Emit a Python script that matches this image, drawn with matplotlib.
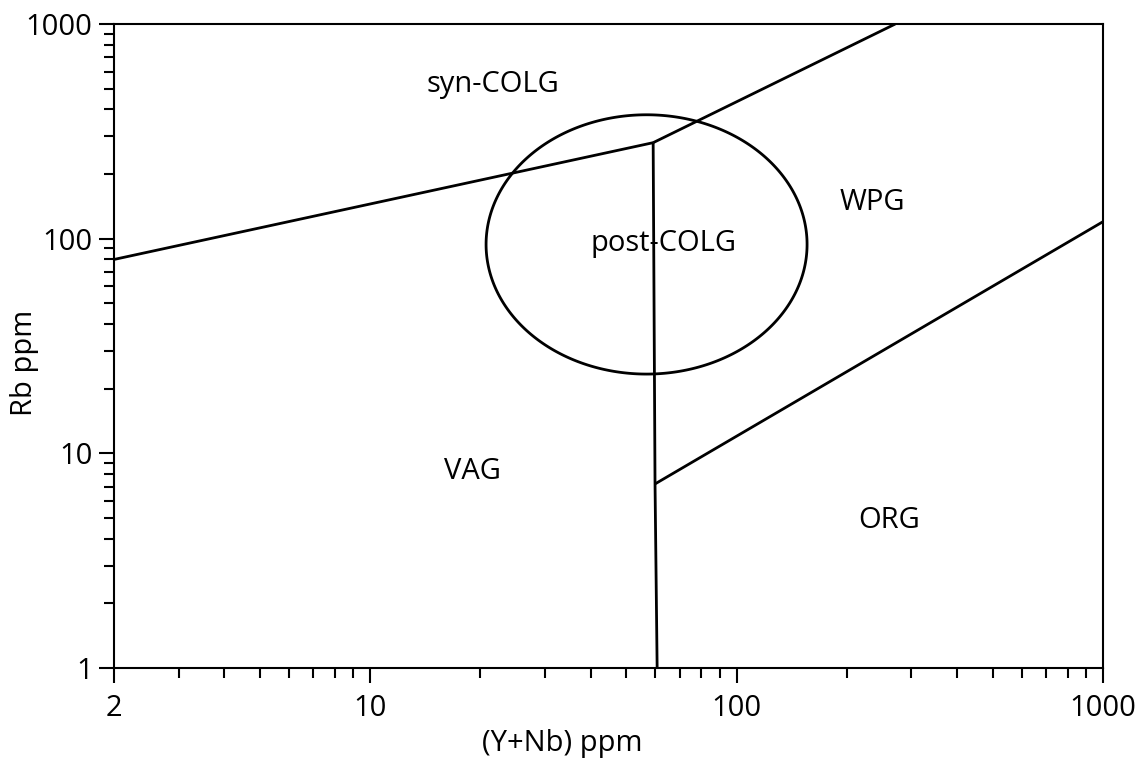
"""Rb vs (Y+Nb) tectonic discrimination diagram for granites."""
import numpy as np
import matplotlib
matplotlib.use("Agg")
import matplotlib.pyplot as plt
from matplotlib.patches import Polygon
from matplotlib.ticker import LogLocator, FixedLocator, NullFormatter

plt.rcParams["font.family"] = ["Open Sans", "DejaVu Sans"]

# field boundaries, (Y+Nb, Rb) in ppm
syn_vag_x = [2, 59.2]
syn_vag_y = [80, 280]
syn_wpg_x = [59.2, 271]
syn_wpg_y = [280, 1000]
vag_org_x = [59.2, 59.9, 60.7]
vag_org_y = [280, 7.2, 1]
wpg_org_x = [59.9, 1000]
wpg_org_y = [7.2, 120]

# post-COLG field: ellipse in log space (centre, half-axes in decades)
post_centre = (56.8, 94.0)
post_half_axes = (0.438, 0.604)

field_names = ["syn-COLG", "WPG", "post-COLG", "VAG", "ORG"]
field_x = [21.6, 235, 63, 19, 261]
field_y = [521, 148, 95, 8.2, 4.87]

x_ticks = [2, 10, 100, 1000]
y_ticks = [1, 10, 100, 1000]

fig = plt.figure(figsize=(11.46, 7.62), dpi=100)
ax = fig.add_axes([0.0995, 0.1234, 0.863, 0.8451])
ax.set_xscale("log")
ax.set_yscale("log")
ax.set_xlim(2, 1000)
ax.set_ylim(1, 1000)

lw = 2
for xs, ys in [(syn_vag_x, syn_vag_y), (syn_wpg_x, syn_wpg_y),
               (vag_org_x, vag_org_y), (wpg_org_x, wpg_org_y)]:
    ax.plot(xs, ys, color="black", linewidth=lw, solid_capstyle="butt")

t = np.linspace(0, 2 * np.pi, 400, endpoint=False)
ex = 10 ** (np.log10(post_centre[0]) + post_half_axes[0] * np.cos(t))
ey = 10 ** (np.log10(post_centre[1]) + post_half_axes[1] * np.sin(t))
ax.add_patch(Polygon(np.column_stack([ex, ey]), closed=True, fill=False,
                     edgecolor="black", linewidth=lw))

for name, x, y in zip(field_names, field_x, field_y):
    ax.text(x, y, name, fontsize=21, ha="center", va="center")

ax.xaxis.set_major_locator(FixedLocator(x_ticks))
ax.xaxis.set_major_formatter(plt.FixedFormatter([str(v) for v in x_ticks]))
ax.xaxis.set_minor_locator(LogLocator(base=10, subs=np.arange(2, 10)))
ax.xaxis.set_minor_formatter(NullFormatter())
ax.yaxis.set_major_locator(FixedLocator(y_ticks))
ax.yaxis.set_major_formatter(plt.FixedFormatter([str(v) for v in y_ticks]))
ax.yaxis.set_minor_locator(LogLocator(base=10, subs=np.arange(2, 10)))
ax.yaxis.set_minor_formatter(NullFormatter())

ax.tick_params(which="major", direction="out", length=10.5, width=1.5,
               labelsize=21, pad=5)
ax.tick_params(axis="x", which="major", pad=8)
ax.tick_params(which="minor", direction="out", length=7, width=1.5)
for sp in ax.spines.values():
    sp.set_linewidth(1.5)

ax.set_xlabel("(Y+Nb) ppm", fontsize=21, va="center")
ax.set_ylabel("Rb ppm", fontsize=21, va="center")
ax.xaxis.set_label_coords(0.453, -0.118)
ax.yaxis.set_label_coords(-0.091, 0.474)

fig.savefig("out.png", dpi=100)
